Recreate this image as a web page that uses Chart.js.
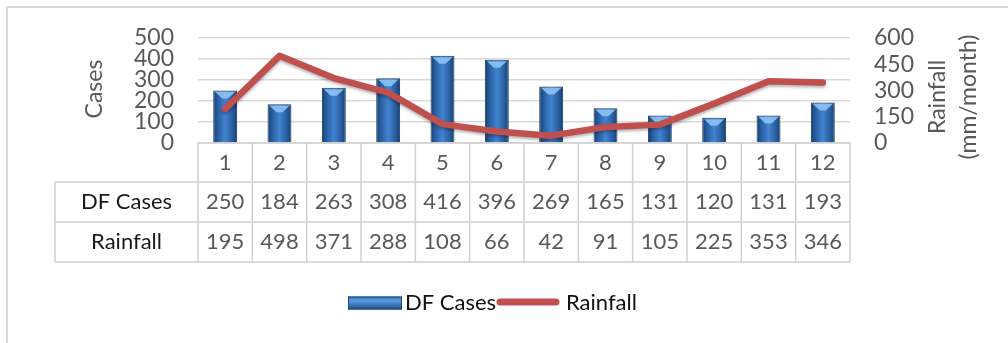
<!DOCTYPE html>
<html>
<head>
<meta charset="utf-8">
<script src="https://cdn.jsdelivr.net/npm/chart.js@4/dist/chart.umd.min.js"></script>
<style>
  html, body { margin: 0; padding: 0; background: #fff; }
  #wrap { width: 1008px; height: 343px; }
</style>
</head>
<body>
<div id="wrap"><canvas id="c" width="1008" height="343"></canvas></div>
<script>
// Monthly dengue fever cases and rainfall
const months = ['1', '2', '3', '4', '5', '6', '7', '8', '9', '10', '11', '12'];
const dfCases = [250, 184, 263, 308, 416, 396, 269, 165, 131, 120, 131, 193];
const rainfall = [195, 498, 371, 288, 108, 66, 42, 91, 105, 225, 353, 346];
const caseTicks = [0, 100, 200, 300, 400, 500];
const rainTicks = [0, 150, 300, 450, 600];
const rowLabels = ['DF Cases', 'Rainfall'];

const FONT = 'Lato, "Open Sans", sans-serif';
const GREY = '#595959';
const LINE_RED = '#c0504d';

function barGradient(ctx, cx, half) {
  const g = ctx.createLinearGradient(cx - half, 0, cx + half, 0);
  g.addColorStop(0, '#18406f');
  g.addColorStop(0.22, '#2a61a4');
  g.addColorStop(0.5, '#4283d0');
  g.addColorStop(0.78, '#2a61a4');
  g.addColorStop(1, '#18406f');
  return g;
}

// Frame, data table, axis titles and legend
const decor = {
  id: 'decor',
  beforeDraw(chart) {
    const c = chart.ctx;
    c.save();
    c.fillStyle = '#fff';
    c.fillRect(0, 0, chart.width, chart.height);
    c.strokeStyle = '#d9d9d9';
    c.lineWidth = 2;
    c.strokeRect(7, 7, chart.width + 10, chart.height + 10);
    c.restore();
  },
  beforeDatasetDraw(chart, args) {
    if (args.index !== 1) return;
    const c = chart.ctx;
    c.save();
    c.shadowColor = 'rgba(0,0,0,0.3)';
    c.shadowBlur = 3;
    c.shadowOffsetY = 2;
  },
  afterDatasetDraw(chart, args) {
    const c = chart.ctx;
    if (args.index === 1) { c.restore(); return; }
    c.save();
    args.meta.data.forEach(el => {
      const w = el.width, x0 = el.x - w / 2, y0 = el.y;
      c.fillStyle = 'rgba(140,195,245,0.9)';
      c.beginPath();
      c.moveTo(x0 + 2, y0 + 1.5);
      c.lineTo(x0 + w - 2, y0 + 1.5);
      c.lineTo(el.x + 3, y0 + 8);
      c.lineTo(el.x - 3, y0 + 8);
      c.closePath();
      c.fill();
    });
    c.restore();
  },
  afterDraw(chart) {
    const c = chart.ctx;
    const xs = chart.scales.x;
    const area = chart.chartArea;
    const left = area.left, right = area.right;
    const colW = (right - left) / months.length;
    const labelLeft = 55;
    const rows = [area.bottom, area.bottom + 39, area.bottom + 79, area.bottom + 119];

    c.save();
    c.strokeStyle = '#d0d0d0';
    c.lineWidth = 1.5;
    // horizontal rules
    c.beginPath();
    c.moveTo(left, rows[0]); c.lineTo(right, rows[0]);
    for (let i = 1; i < rows.length; i++) {
      c.moveTo(labelLeft, rows[i]); c.lineTo(right, rows[i]);
    }
    // vertical rules
    for (let i = 0; i <= months.length; i++) {
      const x = left + i * colW;
      c.moveTo(x, rows[0]); c.lineTo(x, rows[3]);
    }
    c.moveTo(labelLeft, rows[1]); c.lineTo(labelLeft, rows[3]);
    c.stroke();

    c.font = '22px ' + FONT;
    c.textAlign = 'center';
    c.textBaseline = 'middle';
    const series = [dfCases, rainfall];
    months.forEach((m, i) => {
      const cx = xs.getPixelForValue(i);
      c.fillStyle = GREY;
      c.fillText(m, cx, (rows[0] + rows[1]) / 2);
      series.forEach((s, r) => {
        c.fillText(String(s[i]), cx, (rows[r + 1] + rows[r + 2]) / 2);
      });
    });
    c.fillStyle = '#1a1a1a';
    rowLabels.forEach((t, r) => {
      c.fillText(t, (labelLeft + left) / 2, (rows[r + 1] + rows[r + 2]) / 2);
    });

    // axis titles
    c.fillStyle = GREY;
    c.font = '23px ' + FONT;
    const vtext = (t, x, y) => {
      c.save(); c.translate(x, y); c.rotate(-Math.PI / 2); c.fillText(t, 0, 0); c.restore();
    };
    vtext('Cases', 95, 89);
    vtext('Rainfall', 938, 97);
    vtext('(mm/month)', 969, 97);

    // legend
    const ly = 303;
    const bx = 348, bw = 54, bh = 13;
    const lg = c.createLinearGradient(0, ly - bh / 2, 0, ly + bh / 2);
    lg.addColorStop(0, '#3a78c2');
    lg.addColorStop(0.35, '#5a9be0');
    lg.addColorStop(1, '#1d4a85');
    c.fillStyle = lg;
    c.fillRect(bx, ly - bh / 2, bw, bh);
    c.strokeStyle = '#1a4275';
    c.lineWidth = 1;
    c.strokeRect(bx + 0.5, ly - bh / 2 + 0.5, bw - 1, bh - 1);
    c.font = '22px ' + FONT;
    c.textAlign = 'left';
    c.fillStyle = '#111';
    c.fillText('DF Cases', 405, ly);
    c.strokeStyle = LINE_RED;
    c.lineWidth = 7;
    c.lineCap = 'round';
    c.beginPath(); c.moveTo(500, ly - 1); c.lineTo(556, ly - 1); c.stroke();
    c.fillStyle = '#111';
    c.fillText('Rainfall', 566, ly);
    c.restore();
  }
};

new Chart(document.getElementById('c'), {
  data: {
    labels: months,
    datasets: [
      {
        type: 'bar',
        label: 'DF Cases',
        data: dfCases,
        yAxisID: 'y',
        order: 1,
        barPercentage: 0.44,
        categoryPercentage: 1,
        borderColor: '#173c6b',
        borderWidth: 1,
        backgroundColor(ctx) {
          const xs = ctx.chart.scales.x;
          if (!xs || ctx.dataIndex === undefined) return '#2f6db5';
          const cx = xs.getPixelForValue(ctx.dataIndex);
          if (!Number.isFinite(cx)) return '#2f6db5';
          return barGradient(ctx.chart.ctx, cx, 12);
        }
      },
      {
        type: 'line',
        label: 'Rainfall',
        data: rainfall,
        yAxisID: 'y1',
        order: 0,
        borderColor: LINE_RED,
        borderWidth: 6.5,
        borderCapStyle: 'round',
        borderJoinStyle: 'round',
        pointRadius: 0,
        tension: 0
      }
    ]
  },
  options: {
    responsive: false,
    animation: false,
    devicePixelRatio: 1,
    layout: { padding: { top: 38, bottom: 200, left: 0, right: 0 } },
    plugins: { legend: { display: false }, tooltip: { enabled: false } },
    scales: {
      x: { type: 'category', display: false, offset: true },
      y: {
        position: 'left',
        min: 0, max: 500,
        afterBuildTicks(s) { s.ticks = caseTicks.map(v => ({ value: v })); },
        ticks: { autoSkip: false, padding: 24, color: GREY, font: { family: FONT, size: 23 } },
        grid: { color: '#d9d9d9', lineWidth: 1.5, drawTicks: false },
        border: { display: false },
        afterFit(s) { s.width = 198; }
      },
      y1: {
        position: 'right',
        min: 0, max: 600,
        afterBuildTicks(s) { s.ticks = rainTicks.map(v => ({ value: v })); },
        ticks: { autoSkip: false, padding: 24, color: GREY, font: { family: FONT, size: 23 } },
        grid: { display: false, drawTicks: false },
        border: { display: false },
        afterFit(s) { s.width = 158; }
      }
    }
  },
  plugins: [decor]
});
</script>
</body>
</html>
